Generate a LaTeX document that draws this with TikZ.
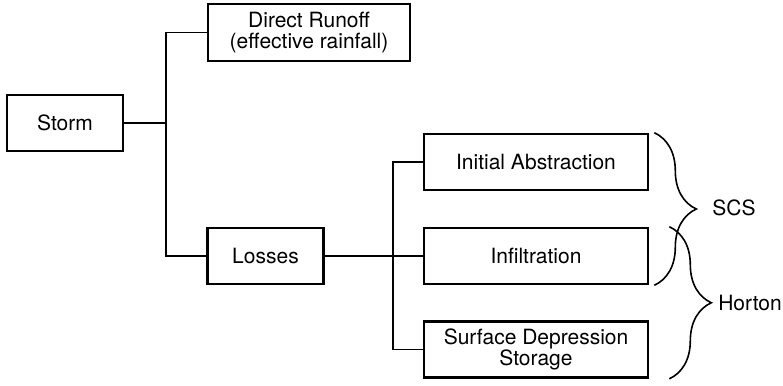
\documentclass[tikz,border=0pt]{standalone}
\usepackage{fontspec}
\setmainfont{TeX Gyre Heros}
\usetikzlibrary{decorations.pathreplacing}

\begin{document}
\begin{tikzpicture}[
    x=1pt, y=-1pt,
    blk/.style={draw, line width=2.6pt, minimum height=56pt, align=center,
                inner sep=2pt, font=\fontsize{21}{20.5}\selectfont},
    sml/.style={blk, minimum width=116pt},
    wid/.style={blk, minimum width=224pt},
    lnk/.style={line width=1.6pt},
    brc/.style={decorate, decoration={brace, amplitude=42pt, aspect=0.5}, line width=1.6pt},
    lbl/.style={font=\fontsize{21}{21}\selectfont}
  ]
  \useasboundingbox (0,0) rectangle (783,385);

  \node[sml] (storm)  at (65,123)    {Storm};
  \node[blk, minimum width=202pt, minimum height=57pt] (runoff) at (309,32.5)
    {Direct Runoff\\(effective rainfall)};
  \node[sml] (loss)   at (265.5,256) {Losses};

  \node[wid] (abst)   at (536,162)   {Initial Abstraction};
  \node[wid] (infil)  at (536,256)   {Infiltration};
  \node[wid] (surf)   at (536,349.5) {Surface Depression\\Storage};

  \coordinate (j1) at (166,123);
  \coordinate (j2) at (393,256);

  \draw[lnk] (storm.east) -- (j1);
  \draw[lnk] (runoff.west) -| (j1) |- (loss.west);
  \draw[lnk] (loss.east) -- (infil.west);
  \draw[lnk] (abst.west) -| (j2) |- (surf.west);

  \draw[brc] ([xshift=5pt]abst.north east) -- ([xshift=5pt]infil.south east);
  \draw[brc] ([xshift=20pt]infil.north east) -- ([xshift=20pt]surf.south east);

  \node[lbl] (scs)    at (734,208) {SCS};
  \node[lbl] (horton) at (750,303) {Horton};
\end{tikzpicture}
\end{document}
